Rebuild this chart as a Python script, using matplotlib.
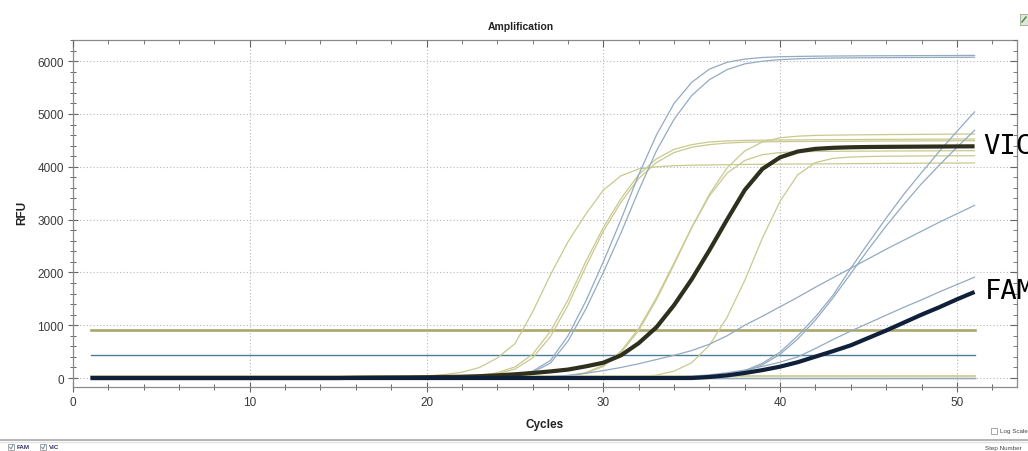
import matplotlib
matplotlib.use("Agg")
import matplotlib.pyplot as plt
from matplotlib.ticker import MultipleLocator
from matplotlib.patches import Rectangle

# ---- data -------------------------------------------------------------
cycles = list(range(1, 52))

# VIC channel, thin curves
vic_a = [0, 0, 0, 0, 0, 0, 0, 0, 0, 0, 0, 0, 0, 0, 0, 5, 10, 15, 25, 40,
         65, 110, 200, 380, 650, 1250, 1950, 2580, 3100, 3560, 3830, 3960, 4000, 4020, 4030,
         4035, 4040, 4045, 4048, 4050, 4053, 4055, 4057, 4060, 4062, 4064, 4066, 4068, 4070, 4071, 4072]
vic_b = [0, 0, 0, 0, 0, 0, 0, 0, 0, 0, 0, 0, 0, 0, 0, 0, 0, 0, 5, 10,
         18, 30, 50, 100, 210, 450, 880, 1480, 2200, 2850, 3400, 3850, 4150, 4330, 4420,
         4470, 4490, 4500, 4505, 4508, 4510, 4512, 4514, 4516, 4518, 4520, 4521, 4523, 4524, 4526, 4527]
vic_c = [0, 0, 0, 0, 0, 0, 0, 0, 0, 0, 0, 0, 0, 0, 0, 0, 0, 0, 0, 5,
         12, 22, 40, 80, 170, 380, 780, 1380, 2100, 2780, 3330, 3780, 4080, 4270, 4370,
         4420, 4450, 4465, 4472, 4476, 4479, 4481, 4483, 4485, 4487, 4488, 4489, 4490, 4491, 4493, 4494]
vic_d = [0, 0, 0, 0, 0, 0, 0, 0, 0, 0, 0, 0, 0, 0, 0, 0, 0, 0, 0, 0,
         0, 0, 0, 0, 5, 10, 20, 40, 100, 240, 510, 940, 1520, 2180, 2850,
         3480, 3980, 4300, 4470, 4550, 4580, 4595, 4600, 4604, 4607, 4610, 4612, 4615, 4617, 4619, 4621]
vic_e = [0, 0, 0, 0, 0, 0, 0, 0, 0, 0, 0, 0, 0, 0, 0, 0, 0, 0, 0, 0,
         0, 0, 0, 0, 0, 5, 15, 35, 90, 220, 480, 900, 1480, 2150, 2850,
         3450, 3880, 4120, 4230, 4270, 4285, 4290, 4293, 4295, 4297, 4299, 4300, 4301, 4302, 4304, 4305]
vic_f = [0, 0, 0, 0, 0, 0, 0, 0, 0, 0, 0, 0, 0, 0, 0, 0, 0, 0, 0, 0,
         0, 0, 0, 0, 0, 0, 0, 0, 0, 5, 10, 25, 55, 130, 290,
         620, 1150, 1850, 2650, 3350, 3850, 4080, 4160, 4185, 4195, 4200, 4203, 4205, 4207, 4209, 4210]
vic_neg = [44] * 51
vic_neg2 = [8] * 51

# VIC channel, highlighted sample
vic_main = [0, 0, 0, 0, 0, 0, 0, 0, 0, 0, 0, 0, 0, 0, 0, 5, 8, 10, 12, 15,
            20, 25, 35, 50, 70, 95, 125, 160, 220, 290, 430, 660, 960, 1380, 1870,
            2420, 3000, 3560, 3960, 4180, 4290, 4340, 4360, 4370, 4375, 4378, 4380, 4382, 4384, 4386, 4388]

# FAM channel, thin curves
fam_a = [0, 0, 0, 0, 0, 0, 0, 0, 0, 0, 0, 0, 0, 0, 0, 0, 0, 0, 0, 0,
         5, 10, 15, 30, 60, 130, 330, 800, 1450, 2200, 3000, 3850, 4600, 5200, 5600,
         5850, 5980, 6040, 6070, 6085, 6090, 6095, 6098, 6100, 6102, 6103, 6104, 6106, 6107, 6108, 6110]
fam_b = [0, 0, 0, 0, 0, 0, 0, 0, 0, 0, 0, 0, 0, 0, 0, 0, 0, 0, 0, 0,
         0, 5, 10, 20, 50, 110, 280, 700, 1300, 2000, 2750, 3550, 4300, 4900, 5350,
         5650, 5840, 5950, 6000, 6030, 6045, 6055, 6060, 6063, 6065, 6067, 6069, 6070, 6072, 6073, 6075]
fam_c = [0, 0, 0, 0, 0, 0, 0, 0, 0, 0, 0, 0, 0, 0, 0, 0, 0, 0, 0, 0,
         0, 0, 0, 0, 5, 10, 25, 50, 90, 140, 200, 270, 350, 430, 520,
         640, 800, 1000, 1170, 1350, 1530, 1720, 1900, 2080, 2260, 2440, 2610, 2780, 2950, 3110, 3270]
fam_d = [0, 0, 0, 0, 0, 0, 0, 0, 0, 0, 0, 0, 0, 0, 0, 0, 0, 0, 0, 0,
         0, 0, 0, 0, 0, 0, 0, 0, 0, 0, 0, 0, 5, 15, 35,
         60, 100, 150, 220, 300, 400, 560, 730, 890, 1040, 1190, 1340, 1480, 1630, 1770, 1910]
fam_e = [0, 0, 0, 0, 0, 0, 0, 0, 0, 0, 0, 0, 0, 0, 0, 0, 0, 0, 0, 0,
         0, 0, 0, 0, 0, 0, 0, 0, 0, 0, 0, 0, 0, 0, 5,
         20, 60, 140, 280, 490, 800, 1160, 1570, 2080, 2560, 3030, 3480, 3890, 4290, 4670, 5040]
fam_f = [0, 0, 0, 0, 0, 0, 0, 0, 0, 0, 0, 0, 0, 0, 0, 0, 0, 0, 0, 0,
         0, 0, 0, 0, 0, 0, 0, 0, 0, 0, 0, 0, 0, 0, 0,
         15, 50, 120, 250, 450, 740, 1100, 1520, 1980, 2440, 2880, 3290, 3680, 4030, 4370, 4690]
fam_neg = [0] * 51

# FAM channel, highlighted sample
fam_main = [0, 0, 0, 0, 0, 0, 0, 0, 0, 0, 0, 0, 0, 0, 0, 0, 0, 0, 0, 0,
            0, 0, 0, 0, 0, 0, 0, 0, 0, 0, 0, 0, 0, 0, 0,
            20, 50, 95, 150, 215, 300, 405, 510, 620, 760, 900, 1050, 1200, 1340, 1490, 1630]

# threshold levels
vic_threshold = 915
fam_threshold = 441

x_ticks = [0, 10, 20, 30, 40, 50]
y_ticks = [0, 1000, 2000, 3000, 4000, 5000, 6000]

# ---- styles -----------------------------------------------------------
OLIVE = "#c9c98f"
OLIVE_DARK = "#b4b47a"
BLUE = "#93aac2"
VIC_BOLD = "#2f2f1d"
FAM_BOLD = "#10203a"
TEXT = "#3a3a3a"
FONT = "Liberation Sans"

fig = plt.figure(figsize=(10.28, 4.52), dpi=100)
ax = fig.add_axes([73 / 1028, 1 - 388 / 452, (1017 - 73) / 1028, (388 - 40.7) / 452])

# thresholds
ax.plot([1, 51], [vic_threshold, vic_threshold], color="#a9a86a", lw=1.9, zorder=3)
ax.plot([1, 51], [fam_threshold, fam_threshold], color="#4f7b93", lw=1.0, zorder=3)

# flat (negative) wells
ax.plot(cycles, vic_neg, color=OLIVE, lw=1.2, zorder=2)
ax.plot(cycles, vic_neg2, color=OLIVE_DARK, lw=1.0, zorder=2)
ax.plot(cycles, fam_neg, color=BLUE, lw=1.0, zorder=2)

for ys in (vic_a, vic_b, vic_c, vic_d, vic_e, vic_f):
    ax.plot(cycles, ys, color=OLIVE, lw=0.9, zorder=4)
for ys in (fam_a, fam_b, fam_c, fam_d, fam_e, fam_f):
    ax.plot(cycles, ys, color=BLUE, lw=0.9, zorder=4)

ax.plot(cycles, vic_main, color=VIC_BOLD, lw=3.0, zorder=6, solid_capstyle="butt")
ax.plot(cycles, fam_main, color=FAM_BOLD, lw=3.0, zorder=6, solid_capstyle="butt")

ax.set_xlim(0, 53.4)
ax.set_ylim(-170, 6407)
ax.set_xticks(x_ticks)
ax.set_yticks(y_ticks)
ax.xaxis.set_minor_locator(MultipleLocator(2))
ax.yaxis.set_minor_locator(MultipleLocator(200))

ax.grid(True, which="major", color="#b8b8b8", lw=0.8, linestyle=(0, (1, 2)), zorder=0)
ax.set_axisbelow(True)

for side in ("left", "bottom", "top", "right"):
    ax.spines[side].set_color("#8a8a8a")
    ax.spines[side].set_linewidth(0.9)

ax.tick_params(axis="both", which="major", direction="inout", length=7, width=0.8,
               color="#666666", labelsize=8.5, labelcolor=TEXT, pad=3)
ax.tick_params(axis="both", which="minor", direction="inout", length=4, width=0.7,
               color="#666666")
ax.xaxis.set_tick_params(which="both", top=False)
ax.yaxis.set_tick_params(which="both", right=False)
for t in ax.get_xticklabels() + ax.get_yticklabels():
    t.set_fontfamily(FONT)

# top / right ticks point inward only
topx = ax.twiny()
topx.set_xlim(ax.get_xlim())
topx.xaxis.set_minor_locator(MultipleLocator(2))
topx.set_xticks(x_ticks)
topx.tick_params(axis="x", which="major", direction="in", length=5, color="#666666",
                 labeltop=False)
topx.tick_params(axis="x", which="minor", direction="in", length=3, color="#666666")
for s in topx.spines.values():
    s.set_visible(False)
righty = ax.twinx()
righty.set_ylim(ax.get_ylim())
righty.set_yticks(y_ticks)
righty.yaxis.set_minor_locator(MultipleLocator(200))
righty.tick_params(axis="y", which="major", direction="in", length=5, color="#666666",
                   labelright=False)
righty.tick_params(axis="y", which="minor", direction="in", length=3, color="#666666")
for s in righty.spines.values():
    s.set_visible(False)

fig.text(521 / 1028, 1 - 27 / 452, "Amplification", fontsize=7.5, fontweight="bold",
         family=FONT, color="#222222", ha="center", va="center")
ax.set_xlabel("Cycles", fontsize=8.5, fontweight="bold", family=FONT, color="#222222", labelpad=7)
fig.text(22 / 1028, 1 - 213 / 452, "RFU", fontsize=8.5, fontweight="bold", family=FONT,
         color="#222222", ha="center", va="center", rotation=90)

# channel labels at line ends
fig.text(983 / 1028, 1 - 147 / 452, "VIC", family="DejaVu Sans Mono", fontsize=19.5,
         color="black", va="center", ha="left")
fig.text(985 / 1028, 1 - 292 / 452, "FAM", family="DejaVu Sans Mono", fontsize=19.5,
         color="black", va="center", ha="left")

# window furniture below the plot
fig.add_artist(plt.Line2D([0, 1], [1 - 441 / 452, 1 - 441 / 452], color="#a8a8a8", lw=1.2))
fig.add_artist(plt.Line2D([0, 1], [1 - 443 / 452, 1 - 443 / 452], color="#e2e2e2", lw=1.0))
for bx, lbl in ((8, "FAM"), (40, "VIC")):
    fig.add_artist(Rectangle((bx / 1028, 1 - 451 / 452), 6 / 1028, 6 / 452, transform=fig.transFigure,
                             fc="white", ec="#999999", lw=0.6))
    fig.add_artist(plt.Line2D([(bx + 1.5) / 1028, (bx + 3) / 1028, (bx + 5) / 1028],
                              [1 - 448 / 452, 1 - 450 / 452, 1 - 446 / 452], color="#5577aa", lw=0.6))
    fig.text((bx + 9) / 1028, 1 - 448 / 452, lbl, fontsize=4.5, family=FONT, color="#333366",
             va="center", fontweight="bold")
fig.add_artist(Rectangle((991 / 1028, 1 - 435 / 452), 6 / 1028, 6 / 452, transform=fig.transFigure,
                         fc="white", ec="#999999", lw=0.6))
fig.text(1000 / 1028, 1 - 432 / 452, "Log Scale", fontsize=4.5, family=FONT, color="#444444", va="center")
fig.text(985 / 1028, 1 - 449 / 452, "Step Number", fontsize=4.5, family=FONT, color="#444444", va="center")

# small toolbar icon
fig.add_artist(Rectangle((1020 / 1028, 1 - 26 / 452), 8 / 1028, 11 / 452, transform=fig.transFigure,
                         fc="#dfe8d8", ec="#9aa88f", lw=0.6))
fig.add_artist(plt.Line2D([1022 / 1028, 1026 / 1028], [1 - 23 / 452, 1 - 18 / 452], color="#3a8a3a", lw=1.0))

fig.savefig("out.png", dpi=100)
